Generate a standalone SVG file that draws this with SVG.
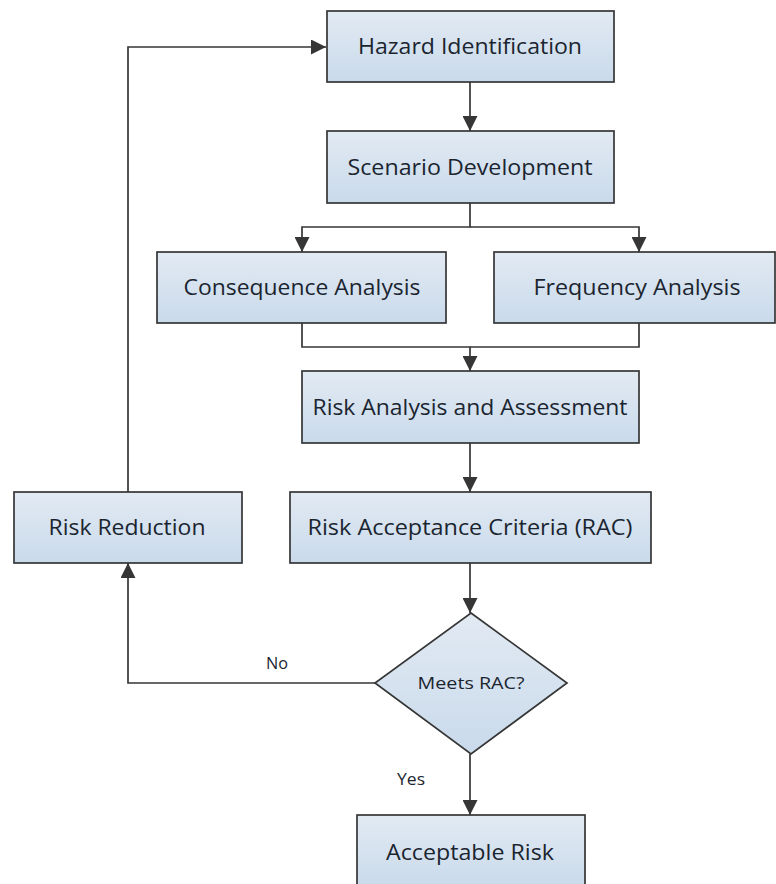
<svg xmlns="http://www.w3.org/2000/svg" width="776" height="884" viewBox="0 0 776 884">
<defs>
<linearGradient id="g" x1="0" y1="0" x2="0" y2="1">
<stop offset="0" stop-color="#e2eaf3"/>
<stop offset="1" stop-color="#c9daeb"/>
</linearGradient>
<marker id="ah" markerUnits="userSpaceOnUse" markerWidth="15" markerHeight="15" refX="15" refY="7.5" orient="auto">
<path d="M0,0 L15,7.5 L0,15 z" fill="#363636"/>
</marker>
</defs>
<style>
.box{fill:url(#g);stroke:#363636;stroke-width:1.7}
.t{font-family:"Open Sans","Noto Sans","Liberation Sans",sans-serif;font-size:21px;fill:#1b2530;text-anchor:middle}
.s{font-family:"Open Sans","Noto Sans","Liberation Sans",sans-serif;font-size:16px;fill:#1b2530;text-anchor:middle}
.c{fill:none;stroke:#363636;stroke-width:1.7}
.a{marker-end:url(#ah)}
</style>
<rect width="776" height="884" fill="#ffffff"/>
<g id="connectors">
<path class="c a" d="M470,82 V131"/>
<path class="c a" d="M470,203 V227 H302 V252"/>
<path class="c a" d="M470,227 H639 V252"/>
<path class="c a" d="M302,323 V347 H470 V371"/>
<path class="c" d="M639,323 V347 H470"/>
<path class="c a" d="M470,443 V492"/>
<path class="c a" d="M470,563 V613"/>
<path class="c a" d="M470,754 V815"/>
<path class="c a" d="M375,683 H128 V563"/>
<path class="c a" d="M128,492 V47 H326"/>
<text class="s" x="277" y="669" textLength="22" lengthAdjust="spacingAndGlyphs">No</text>
<text class="s" x="411" y="785" textLength="28" lengthAdjust="spacingAndGlyphs">Yes</text>
</g>
<g id="hazard">
<rect class="box" x="327" y="11" width="287" height="71"/>
<text class="t" x="470" y="54" textLength="224" lengthAdjust="spacingAndGlyphs">Hazard Identification</text>
</g>
<g id="scenario">
<rect class="box" x="327" y="131" width="287" height="72"/>
<text class="t" x="470" y="175" textLength="245" lengthAdjust="spacingAndGlyphs">Scenario Development</text>
</g>
<g id="consequence">
<rect class="box" x="157" y="252" width="289" height="71"/>
<text class="t" x="302" y="295" textLength="237" lengthAdjust="spacingAndGlyphs">Consequence Analysis</text>
</g>
<g id="frequency">
<rect class="box" x="494" y="252" width="281" height="71"/>
<text class="t" x="637" y="295" textLength="207" lengthAdjust="spacingAndGlyphs">Frequency Analysis</text>
</g>
<g id="riskanalysis">
<rect class="box" x="302" y="371" width="337" height="72"/>
<text class="t" x="470" y="415" textLength="315" lengthAdjust="spacingAndGlyphs">Risk Analysis and Assessment</text>
</g>
<g id="rac">
<rect class="box" x="290" y="492" width="361" height="71"/>
<text class="t" x="470" y="535" textLength="325" lengthAdjust="spacingAndGlyphs">Risk Acceptance Criteria (RAC)</text>
</g>
<g id="riskreduction">
<rect class="box" x="14" y="492" width="228" height="71"/>
<text class="t" x="127" y="535" textLength="157" lengthAdjust="spacingAndGlyphs">Risk Reduction</text>
</g>
<g id="decision">
<polygon class="box" points="471,613 567,683 471,754 375,683"/>
<text class="s" x="471" y="689" textLength="107" lengthAdjust="spacingAndGlyphs">Meets RAC?</text>
</g>
<g id="acceptable">
<rect class="box" x="357" y="815" width="228" height="72"/>
<text class="t" x="470" y="860" textLength="168" lengthAdjust="spacingAndGlyphs">Acceptable Risk</text>
</g>
</svg>
